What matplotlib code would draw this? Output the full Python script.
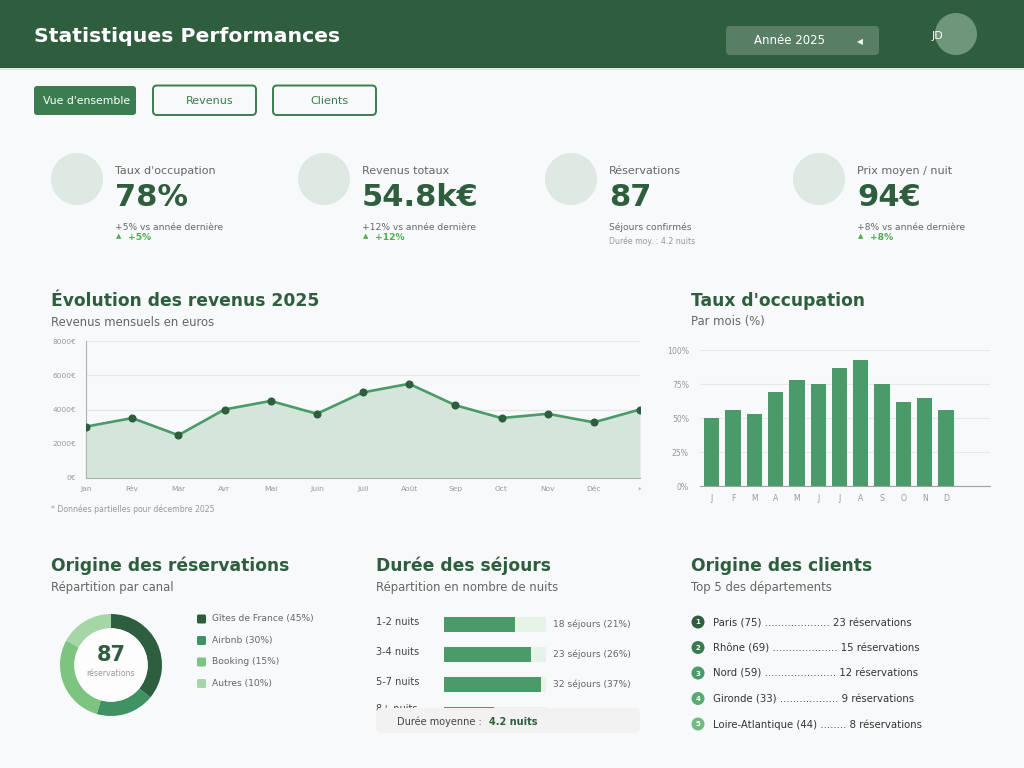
import matplotlib.pyplot as plt
from matplotlib.patches import FancyBboxPatch, Circle, Rectangle

W, H = 1024, 768

# --- data -------------------------------------------------------------
kpi_labels = ["Taux d'occupation", "Revenus totaux", "Réservations", "Prix moyen / nuit"]
kpi_values = ["78%", "54.8k€", "87", "94€"]
kpi_notes = ["+5% vs année dernière", "+12% vs année dernière",
             "Séjours confirmés", "+8% vs année dernière"]
kpi_trends = ["+5%", "+12%", None, "+8%"]

months = ["Jan", "Fév", "Mar", "Avr", "Mai", "Juin", "Juil", "Août",
          "Sep", "Oct", "Nov", "Déc", "*"]
revenue = [3000, 3500, 2500, 4000, 4500, 3750, 5000, 5500,
           4250, 3500, 3750, 3250, 4000]

occ_months = ["J", "F", "M", "A", "M", "J", "J", "A", "S", "O", "N", "D"]
occupancy = [50, 56, 53, 69, 78, 75, 87, 93, 75, 62, 65, 56]

channels = ["Gîtes de France (45%)", "Airbnb (30%)", "Booking (15%)", "Autres (10%)"]
channel_arcs = [36, 18.5, 28.5, 17]  # share of the ring as drawn
total_bookings = 87

stay_labels = ["1-2 nuits", "3-4 nuits", "5-7 nuits", "8+ nuits"]
stay_counts = [18, 23, 32, 14]
stay_pct = [21, 26, 37, 16]
stay_fill = [0.70, 0.85, 0.95, 0.49]

departments = ["Paris (75)", "Rhône (69)", "Nord (59)", "Gironde (33)", "Loire-Atlantique (44)"]
dept_bookings = [23, 15, 12, 9, 8]
dept_dots = [20, 20, 22, 18, 8]

# --- colours ----------------------------------------------------------
BG = "#f7f9fa"
DARK = "#2e5e3e"
MID = "#4a9a6a"
TAB = "#3b7d51"
GREY = "#666666"
LIGHT = "#999999"
channel_colors = ["#2d5e3e", "#3f9262", "#7cc47f", "#a6d6a6"]
rank_colors = ["#2d5e3e", "#3a7a50", "#4a9a6a", "#5aab72", "#6fbb82"]

fig = plt.figure(figsize=(10.24, 7.68), dpi=100)
fig.patch.set_facecolor(BG)
bg = fig.add_axes([0, 0, 1, 1])
bg.set_xlim(0, W)
bg.set_ylim(H, 0)
bg.axis("off")


def px_axes(x0, y0, x1, y1, **kw):
    return fig.add_axes([x0 / W, 1 - y1 / H, (x1 - x0) / W, (y1 - y0) / H], **kw)


def rbox(ax, x, y, w, h, r, **kw):
    ax.add_patch(FancyBboxPatch((x, y), w, h,
                                boxstyle=f"round,pad=0,rounding_size={r}", **kw))


# header
bg.add_patch(Rectangle((0, 0), W, 68, color=DARK, lw=0))
bg.plot([0, W], [68.5, 68.5], color="#dde6e0", lw=1.2)
bg.text(34, 36, "Statistiques Performances", color="white", fontsize=14.7,
        fontweight="bold", va="center")
rbox(bg, 726, 26, 153, 29, 4, fc="#587f66", ec="none")
bg.text(789, 41, "Année 2025", color="white", fontsize=8.5, ha="center", va="center")
bg.text(860, 42, "◀", color="white", fontsize=5.5, ha="center", va="center")
bg.add_patch(Circle((956, 34), 21, color="#6d967a", lw=0))
bg.text(932, 36, "JD", color="white", fontsize=8, va="center")

# tabs
rbox(bg, 34, 86, 102, 29, 3, fc=TAB, ec="none")
bg.text(43, 100.5, "Vue d'ensemble", color="white", fontsize=7.8, va="center")
for label, x0, xc in [("Revenus", 153, 210), ("Clients", 273, 329)]:
    rbox(bg, x0, 85.5, 103, 29.5, 4, fc=BG, ec=TAB, lw=1.4)
    bg.text(xc, 100.5, label, color=TAB, fontsize=8, ha="center", va="center")

# KPI cards
for i, cx in enumerate([77, 324, 571, 819]):
    bg.add_patch(Circle((cx, 179), 26, color="#dde9e2", lw=0))
    tx = cx + 38
    bg.text(tx, 171, kpi_labels[i], color=GREY, fontsize=8, va="center")
    bg.text(tx, 198, kpi_values[i], color=DARK, fontsize=22, fontweight="bold", va="center")
    bg.text(tx, 227, kpi_notes[i], color=GREY, fontsize=6.6, va="center")
    if kpi_trends[i]:
        bg.text(tx + 4, 236, "▲", color="#4caf50", fontsize=5, ha="center", va="center")
        bg.text(tx + 13, 237, kpi_trends[i], color="#4caf50", fontsize=6.6,
                fontweight="bold", va="center")
    else:
        bg.text(tx, 241, "Durée moy. : 4.2 nuits", color=LIGHT, fontsize=5.6, va="center")

# section titles
for x, y, title, sub in [(51, 301, "Évolution des revenus 2025", "Revenus mensuels en euros"),
                         (691, 301, "Taux d'occupation", "Par mois (%)"),
                         (51, 566, "Origine des réservations", "Répartition par canal"),
                         (376, 566, "Durée des séjours", "Répartition en nombre de nuits"),
                         (691, 566, "Origine des clients", "Top 5 des départements")]:
    bg.text(x, y, title, color=DARK, fontsize=12.3, fontweight="bold", va="center")
    bg.text(x, y + 21, sub, color=GREY, fontsize=8.4, va="center")

# revenue line chart
ax = px_axes(86, 341, 640, 478)
ax.set_facecolor("none")
xs = list(range(len(months)))
ax.fill_between(xs, revenue, color="#d4e6da", lw=0)
ax.plot(xs, revenue, color=MID, lw=1.9, zorder=3)
ax.plot(xs, revenue, "o", color=DARK, ms=4.8, zorder=4)
ax.set_xlim(0, 12)
ax.set_ylim(0, 8000)
ax.set_yticks(range(0, 8001, 2000))
ax.set_yticklabels([f"{v}€" for v in range(0, 8001, 2000)])
ax.set_xticks(xs)
ax.set_xticklabels(months)
ax.grid(axis="y", color="#e4e6e8", lw=0.8)
ax.set_axisbelow(True)
for s in ["top", "right"]:
    ax.spines[s].set_visible(False)
for s in ["left", "bottom"]:
    ax.spines[s].set_color("#b0b0b0")
    ax.spines[s].set_linewidth(0.8)
ax.tick_params(length=0, labelsize=5.4, labelcolor=LIGHT)
ax.tick_params(axis="y", pad=7)
ax.tick_params(axis="x", pad=6)
bg.text(51, 509, "* Données partielles pour décembre 2025", color=LIGHT, fontsize=5.6,
        va="center")

# occupancy bars
bx = px_axes(700, 350, 990, 486)
bx.set_facecolor("none")
bx.bar(range(len(occupancy)), occupancy, width=0.72, color=MID)
bx.set_xlim(-0.55, 13.07)
bx.set_ylim(0, 100)
bx.set_yticks([0, 25, 50, 75, 100])
bx.set_yticklabels([f"{v}%" for v in [0, 25, 50, 75, 100]])
bx.set_xticks(range(len(occ_months)))
bx.set_xticklabels(occ_months)
bx.grid(axis="y", color="#e6e8ea", lw=0.8)
bx.set_axisbelow(True)
for s in ["top", "right", "left"]:
    bx.spines[s].set_visible(False)
bx.spines["bottom"].set_color("#a0a0a0")
bx.spines["bottom"].set_linewidth(0.8)
bx.tick_params(length=0, labelsize=5.6, labelcolor=LIGHT)
bx.tick_params(axis="y", pad=8)
bx.tick_params(axis="x", pad=6)

# donut
dx = px_axes(60, 614, 162, 716)
dx.pie(channel_arcs, colors=channel_colors, startangle=90, counterclock=False,
       radius=1, wedgeprops=dict(width=0.28, edgecolor="none"))
dx.add_patch(Circle((0, 0), 0.72, color="#fdfdfd", lw=0))
dx.set_xlim(-1, 1)
dx.set_ylim(-1, 1)
dx.set_aspect("equal")
for i, (lab, col) in enumerate(zip(channels, channel_colors)):
    y = 619 + i * 21.5
    rbox(bg, 197, y - 4.5, 9, 9, 1.5, fc=col, ec="none")
    bg.text(212, y, lab, color=GREY, fontsize=6.6, va="center")

# stay durations (the last row sits under the summary box)
sx = px_axes(444, 609, 546, 729)
sx.set_facecolor("none")
rows = [i + 0.5 for i in range(len(stay_labels))]
sx.barh(rows, [1] * len(rows), height=0.5, color="#e6f4e8")
sx.barh(rows, stay_fill, height=0.5, color=MID)
sx.set_xlim(0, 1)
sx.set_ylim(4, 0)
sx.axis("off")
visible = Rectangle((0, 0), W, 708, transform=bg.transData)
for i, lab in enumerate(stay_labels):
    y = 624 + i * 30
    t1 = bg.text(376, y - 2 - (3 if i == 3 else 0), lab, color="#444444", fontsize=7,
                 va="center")
    t2 = bg.text(553, y, f"{stay_counts[i]} séjours ({stay_pct[i]}%)", color=GREY,
                 fontsize=6.6, va="center")
    for t in (t1, t2):
        t.set_clip_path(visible)

# overlay layer (above the chart axes)
top = fig.add_axes([0, 0, 1, 1], zorder=10)
top.set_xlim(0, W)
top.set_ylim(H, 0)
top.axis("off")
top.text(111, 655, str(total_bookings), color=DARK, fontsize=15, fontweight="bold",
         ha="center", va="center")
top.text(111, 673, "réservations", color=LIGHT, fontsize=5.6, ha="center", va="center")
rbox(top, 376, 708, 264, 25, 6, fc="#f1f2f1", ec="none")
top.text(397, 722, "Durée moyenne : ", color="#444444", fontsize=7, va="center")
top.text(489, 722, "4.2 nuits", color=DARK, fontsize=7, fontweight="bold", va="center")

# client origins
for i, dep in enumerate(departments):
    y = 622 + i * 25.5
    bg.add_patch(Circle((698, y), 6.5, color=rank_colors[i], lw=0))
    bg.text(698, y + 0.5, str(i + 1), color="white", fontsize=5, fontweight="bold",
            ha="center", va="center")
    bg.text(713, y + 1, f"{dep} {'.' * dept_dots[i]} {dept_bookings[i]} réservations",
            color="#333333", fontsize=7.3, va="center")

fig.savefig("out.png", dpi=100, facecolor=BG)
